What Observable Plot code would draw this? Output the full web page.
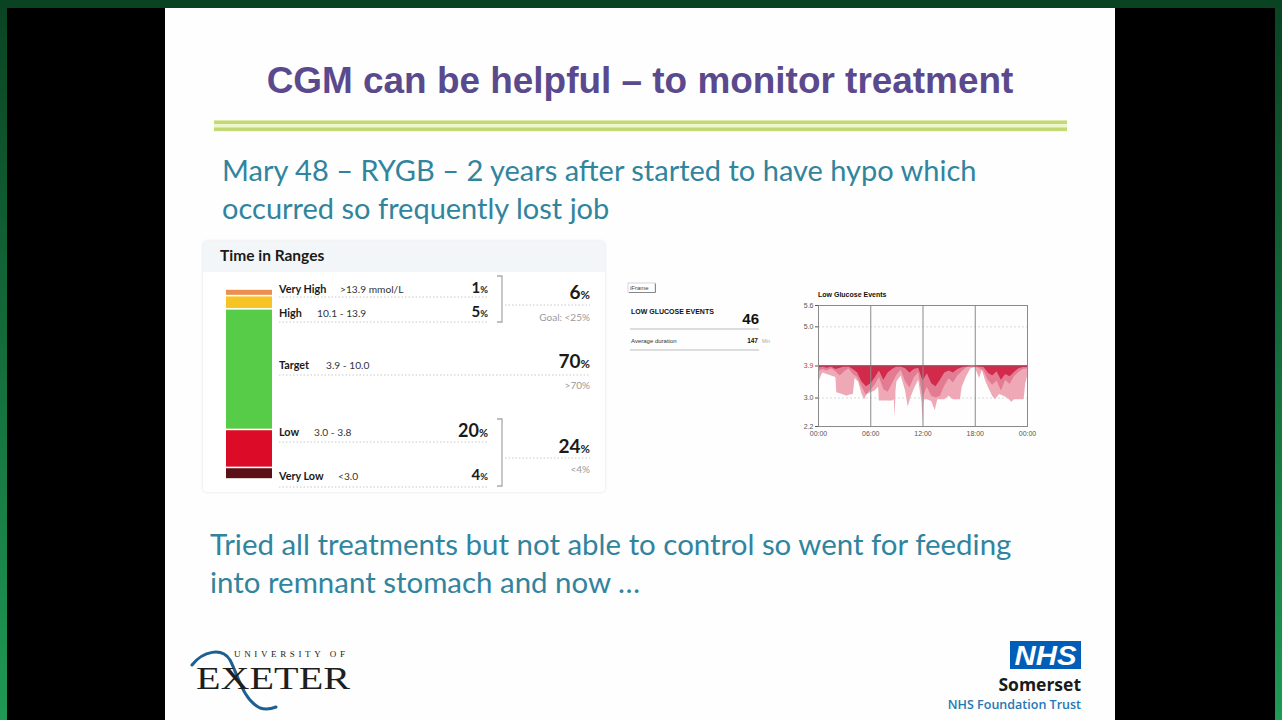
<!DOCTYPE html>
<html><head><meta charset="utf-8">
<script src="https://cdn.jsdelivr.net/npm/d3@7"></script>
<script src="https://cdn.jsdelivr.net/npm/@observablehq/plot@0.6"></script>
<style>
html,body{margin:0;padding:0;width:1282px;height:720px;overflow:hidden;background:#000;}
#stage{position:relative;width:1282px;height:720px;background:linear-gradient(#0a4322,#1f9955);}
.abs{position:absolute;}
#overlay{position:absolute;left:0;top:0;pointer-events:none;}
</style></head><body>
<div id="stage">
  <div class="abs" style="left:7px;top:8px;width:1268px;height:712px;background:#000"></div>
  <div class="abs" style="left:165px;top:8px;width:950px;height:712px;background:#fdfefd"></div>
  <div class="abs" style="left:203px;top:241px;width:402px;height:251px;background:#fff;border-radius:4px;box-shadow:0 0 3px rgba(0,0,0,0.13);overflow:hidden">
    <div style="height:31px;background:#f2f6f8"></div>
  </div>
  <div id="bar" class="abs" style="left:226px;top:289px"></div>
  <div id="glucose" class="abs" style="left:793px;top:295px"></div>
  <svg id="overlay" width="1282" height="720"></svg>
</div>
<script>
// ---------- data ----------
const rangeNames  = ["Very High", "High", "Target", "Low", "Very Low"];
const rangeLimits = [">13.9 mmol/L", "10.1 - 13.9", "3.9 - 10.0", "3.0 - 3.8", "<3.0"];
const rangePcts   = [1, 5, 70, 20, 4];
const rangeColors = ["#eb8f4f", "#f6c425", "#56cc49", "#dc0b28", "#5b0f16"];
const groupNames  = ["High total", "Target", "Low total"];
const groupPcts   = [6, 70, 24];
const groupGoals  = ["Goal: <25%", ">70%", "<4%"];

const lowEvents = 46;
const avgDurationMin = 147;

// glucose (mmol/L) lower envelopes of low events across the day (hours)
const lightHours  = [0,0.25,0.5,1,1.5,2,2.1,2.5,3,3.3,3.5,4,4.2,4.6,5,5.3,5.6,6,6.5,6.9,7,7.5,8,8.5,8.7,8.8,8.9,9,9.5,10,10.3,10.6,11,11.5,11.9,12,12.1,12.2,12.5,13,13.4,13.7,14,14.5,15,15.5,16,16.3,16.5,17,17.5,18,18.5,18.8,19.2,19.5,20,20.3,20.8,21.3,21.8,22.2,22.5,23,23.6,23.8,24];
const lightValues = [3.40,3.58,3.70,3.66,3.62,3.58,3.15,3.12,3.08,3.05,3.08,3.10,3.55,3.45,3.10,2.95,3.10,3.15,3.20,3.30,2.92,2.92,2.92,2.92,2.95,2.45,3.20,3.45,3.62,3.20,2.75,3.00,3.25,3.50,2.85,2.30,2.85,2.95,2.95,2.90,2.65,2.95,2.95,2.95,3.05,2.95,2.95,2.95,3.30,3.60,3.82,3.86,3.55,3.78,3.48,3.30,3.05,2.95,3.10,3.05,2.98,2.88,2.95,2.95,2.95,3.40,3.60];
const gridHours   = [0,0.5,1,1.5,2,2.5,3,3.5,4,4.5,5,5.5,6,6.5,7,7.5,8,8.5,9,9.5,10,10.5,11,11.5,12,12.5,13,13.5,14,14.5,15,15.5,16,16.5,17,17.5,18,18.5,19,19.5,20,20.5,21,21.5,22,22.5,23,23.5,24];
const midValues   = [3.74,3.80,3.76,3.82,3.74,3.62,3.74,3.82,3.66,3.58,3.30,3.08,3.22,3.36,3.58,3.24,3.16,3.40,3.64,3.78,3.46,3.28,3.56,3.72,3.02,3.30,3.05,3.00,3.05,3.34,3.54,3.42,3.62,3.74,3.85,3.88,3.88,3.82,3.76,3.50,3.36,3.48,3.20,3.50,3.38,3.60,3.72,3.80,3.82];
const darkValues  = [3.84,3.87,3.84,3.87,3.80,3.84,3.87,3.87,3.80,3.70,3.45,3.32,3.40,3.56,3.76,3.50,3.70,3.80,3.87,3.87,3.82,3.70,3.80,3.84,3.48,3.68,3.40,3.32,3.50,3.70,3.76,3.70,3.80,3.85,3.88,3.90,3.90,3.88,3.86,3.70,3.62,3.74,3.50,3.66,3.60,3.72,3.82,3.86,3.86];
const yTicks = [2.2, 3.0, 3.9, 5.0, 5.6];
const xTicks = [0, 6, 12, 18, 24];
const xTickLabels = ["00:00", "06:00", "12:00", "18:00", "00:00"];
const lowThreshold = 3.9;

// ---------- Time in Ranges stacked bar ----------
// Clarity pads every range segment with a fixed extra height so small ranges stay visible
const barRows = rangeNames.map((name, i) => ({name, pct: rangePcts[i], shown: rangePcts[i] + 3, color: rangeColors[i]})).reverse();
const barChart = Plot.plot({
  width: 46, height: 190, margin: 0,
  x: {axis: null}, y: {axis: null, domain: [0, d3.sum(barRows, d => d.shown)]},
  color: {type: "identity"},
  marks: [Plot.barY(barRows, {y: "shown", fill: "color", insetTop: 0.8, insetBottom: 0.8})]
});
document.getElementById("bar").appendChild(barChart);

// ---------- Low glucose events chart ----------
const light = lightHours.map((h, i) => ({h, v: lightValues[i]}));
const mid = gridHours.map((h, i) => ({h, v: midValues[i]}));
const dark = gridHours.map((h, i) => ({h, v: darkValues[i]}));
const gl = Plot.plot({
  width: 249, height: 146, marginLeft: 25, marginRight: 15, marginTop: 10, marginBottom: 15,
  style: {fontSize: "7px", fontFamily: "'Liberation Sans', Arial, sans-serif", color: "#555", background: "transparent"},
  x: {domain: [0, 24], ticks: xTicks, tickFormat: d => xTickLabels[xTicks.indexOf(d)], tickSize: 0, tickPadding: 5, label: null},
  y: {domain: [2.2, 5.6], ticks: yTicks, tickFormat: d => d.toFixed(1), tickSize: 3, tickPadding: 2, label: null},
  marks: [
    Plot.ruleY([3.0, 5.0], {stroke: "#d8d8d8", strokeDasharray: "2,2"}),
    Plot.areaY(light, {x: "h", y1: lowThreshold, y2: "v", fill: "#efa8b6"}),
    Plot.areaY(mid, {x: "h", y1: lowThreshold, y2: "v", fill: "#e37c92"}),
    Plot.areaY(dark, {x: "h", y1: lowThreshold, y2: "v", fill: "#d12a4b"}),
    Plot.ruleX([6, 12, 18], {stroke: "#8a8a8a", strokeWidth: 1}),
    Plot.ruleY([lowThreshold], {stroke: "#a8405a", strokeWidth: 1}),
    Plot.frame({stroke: "#8a8a8a"})
  ]
});
d3.select(gl).selectAll("text").filter(function() { return this.textContent.trim() === "3.9"; })
  .attr("fill", "#c8365a").style("fill", "#c8365a");
document.getElementById("glucose").appendChild(gl);

// ---------- slide text & decorations ----------
const svg = d3.select("#overlay");
function txt(x, y, s, o = {}) {
  const t = svg.append("text").attr("x", x).attr("y", y)
    .attr("font-size", o.fs || 12).attr("font-weight", o.fw || 400)
    .attr("font-family", o.ff || "Lato, sans-serif").attr("fill", o.c || "#222")
    .attr("text-anchor", o.a || "start");
  if (o.fst) t.attr("font-style", o.fst);
  t.text(s);
  return t;
}
function fitWidth(t, w) {
  const cur = t.node().getComputedTextLength();
  const fs = +t.attr("font-size");
  t.attr("font-size", fs * w / cur);
  return fs * w / cur;
}
const sans = "'Liberation Sans', Arial, sans-serif";
// title
const title = txt(640, 93, "CGM can be helpful – to monitor treatment", {fs: 33, fw: 700, ff: sans, c: "#5a4a8d", a: "middle"});
fitWidth(title, 747);
svg.append("rect").attr("x", 214).attr("y", 120.5).attr("width", 853).attr("height", 11).attr("fill", "#eef7cc");
svg.append("rect").attr("x", 214).attr("y", 120.5).attr("width", 853).attr("height", 3.5).attr("fill", "#c3d975");
svg.append("rect").attr("x", 214).attr("y", 127.5).attr("width", 853).attr("height", 3.5).attr("fill", "#c3d975");
// body text
const teal = "#31849e";
const l1 = txt(222, 181, "Mary 48 – RYGB – 2 years after started to have hypo which", {fs: 27, c: teal});
const bfs = fitWidth(l1, 755);
txt(222, 219, "occurred so frequently lost job", {fs: bfs, c: teal});
const b1 = txt(210, 555, "Tried all treatments but not able to control so went for feeding", {fs: 27, c: teal});
const bfs2 = fitWidth(b1, 802);
txt(210, 593, "into remnant stomach and now …", {fs: bfs2, c: teal});

// Time in Ranges card
txt(220, 261, "Time in Ranges", {fs: 15.5, fw: 700, c: "#1a1a1a"});
const rowY = [293, 317, 369, 436, 480];
const limX = [340, 317, 326, 314, 338];
const dotted = (x1, x2, y) => svg.append("line").attr("x1", x1).attr("x2", x2).attr("y1", y).attr("y2", y)
  .attr("stroke", "#c8c8c8").attr("stroke-dasharray", "1.5,2");
rangeNames.forEach((n, i) => {
  txt(279, rowY[i], n, {fs: 10.8, fw: 700, c: "#1a1a1a"});
  txt(limX[i], rowY[i], rangeLimits[i], {fs: 10.2, c: "#333"});
  if (i !== 2) {
    const big = i === 3;
    const t = txt(488, rowY[i] + (big ? 1 : 0), "", {fs: big ? 18 : 15, fw: 700, c: "#1a1a1a", a: "end"});
    t.append("tspan").text(rangePcts[i]);
    t.append("tspan").attr("font-size", big ? 11 : 9.5).text("%");
  }
});
dotted(279, 488, 297); dotted(279, 488, 322); dotted(279, 590, 375); dotted(279, 488, 442); dotted(279, 488, 487);
const bracket = (y1, y2) => svg.append("path").attr("d", `M497,${y1}H502V${y2}H497`).attr("fill", "none").attr("stroke", "#aaa").attr("stroke-width", 1.3);
bracket(276, 322); bracket(419, 486);
const gY = [299, 368, 453], goalY = [321, 389, 473];
groupPcts.forEach((p, i) => {
  const t = txt(590, gY[i], "", {fs: 19, fw: 700, c: "#1a1a1a", a: "end"});
  t.append("tspan").text(p);
  t.append("tspan").attr("font-size", 11.5).text("%");
  txt(590, goalY[i], groupGoals[i], {fs: 10, c: "#9a9a9a", a: "end"});
});
dotted(505, 590, 305); dotted(505, 590, 458);

// Low glucose events summary
svg.append("rect").attr("x", 628).attr("y", 283).attr("width", 27).attr("height", 9.5).attr("fill", "#fff").attr("stroke", "#bbb").attr("stroke-width", 0.6);
svg.append("path").attr("d", "M629,292.5H655.5V283.5").attr("fill", "none").attr("stroke", "#888").attr("stroke-width", 1);
txt(630, 290, "iFrame", {fs: 6, ff: sans, c: "#444"});
txt(631, 314, "LOW GLUCOSE EVENTS", {fs: 7, fw: 700, ff: sans, c: "#111"});
txt(759, 324, String(lowEvents), {fs: 15, fw: 700, ff: sans, c: "#111", a: "end"});
svg.append("line").attr("x1", 630).attr("x2", 759).attr("y1", 329).attr("y2", 329).attr("stroke", "#bbb");
txt(631, 342.5, "Average duration", {fs: 6, ff: sans, c: "#333"});
txt(758, 342.5, String(avgDurationMin), {fs: 6.5, fw: 700, ff: sans, c: "#111", a: "end"});
txt(762, 342.5, "Min", {fs: 5, ff: sans, c: "#aaa"});
svg.append("line").attr("x1", 630).attr("x2", 759).attr("y1", 350).attr("y2", 350).attr("stroke", "#bbb");
txt(818, 296.5, "Low Glucose Events", {fs: 7, fw: 700, ff: sans, c: "#111"});

// University of Exeter logo
const serif = "'Liberation Serif', 'DejaVu Serif', serif";
svg.append("path").attr("d", "M192,665 C203,651 222,647 230,660 C238,675 243,700 260,708 C266,710 271,709 276,707")
  .attr("fill", "none").attr("stroke", "#1d5f90").attr("stroke-width", 3).attr("stroke-linecap", "round");
txt(234, 656.5, "UNIVERSITY OF", {fs: 9, ff: serif, c: "#222"}).attr("textLength", 111).attr("lengthAdjust", "spacing");
txt(196, 689, "EXETER", {fs: 32, ff: serif, c: "#1e1e1e"}).attr("textLength", 154).attr("lengthAdjust", "spacingAndGlyphs");

// NHS Somerset logo
svg.append("rect").attr("x", 1010).attr("y", 641).attr("width", 71).attr("height", 28).attr("fill", "#005eb8");
txt(1045.5, 665, "NHS", {fs: 27, fw: 700, fst: "italic", ff: sans, c: "#fff", a: "middle"}).attr("textLength", 62).attr("lengthAdjust", "spacingAndGlyphs");
txt(1081, 691, "Somerset", {fs: 17.5, fw: 700, ff: "'Open Sans', sans-serif", c: "#1a1a1a", a: "end"});
txt(1081, 709, "NHS Foundation Trust", {fs: 12.5, fw: 600, ff: "'Open Sans', sans-serif", c: "#2378b5", a: "end"});
</script>
</body></html>
